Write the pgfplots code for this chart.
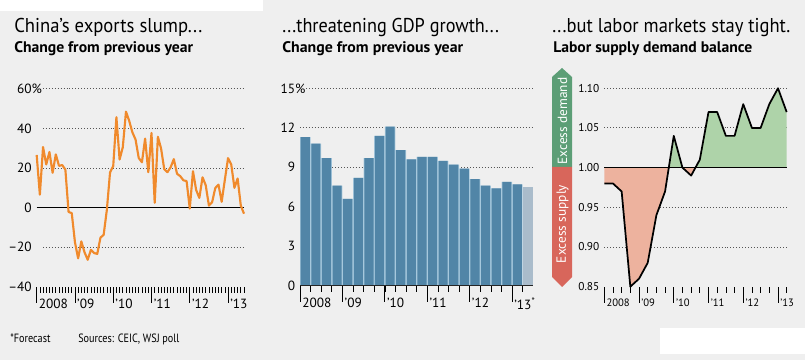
\documentclass[border=0pt]{standalone}
\usepackage{fontspec}
\setmainfont{PT Sans}
\newfontfamily\condfont[FakeStretch=0.85]{PT Sans}
\usepackage{graphicx}
\usepackage{pgfplots}
\pgfplotsset{compat=1.18}
\definecolor{bg}{HTML}{EFEFEF}
\definecolor{orangeline}{HTML}{F08A2C}
\definecolor{barblue}{HTML}{5185A7}
\definecolor{gapblue}{HTML}{A6C8DD}
\definecolor{forecast}{HTML}{AABCCB}
\definecolor{pinkfill}{HTML}{EDB29E}
\definecolor{greenfill}{HTML}{AED3A9}
\definecolor{arrowgreen}{HTML}{5C9E76}
\definecolor{arrowred}{HTML}{D8665B}
\definecolor{gridc}{HTML}{555555}

\newcommand{\ttl}[2]{\resizebox{#1}{\height}{\fontsize{15pt}{17pt}\selectfont #2}}
\newcommand{\sub}[2]{\resizebox{#1}{\height}{\bfseries\fontsize{11.5pt}{13pt}\selectfont #2}}

\tikzset{gridline/.style={gridc, line width=0.7pt, dash pattern=on 0.7pt off 1.5pt}}
\pgfplotsset{
  wsj/.style={
    scale only axis,
    anchor=south west,
    clip=false,
    axis line style={draw=none},
    tick align=outside,
    xtick pos=left,
    ytick style={draw=none},
    xtick style={black, line width=0.6pt},
    minor x tick style={black, line width=0.5pt},
    major tick length=12pt,
    minor tick length=4.5pt,
    /pgf/number format/assume math mode=true,
    xticklabel style={anchor=north west, inner sep=0pt, xshift=1.5pt, yshift=3pt},
    yticklabel style={anchor=east, inner sep=0pt, xshift=8.5pt},
  },
}

\begin{document}
\begin{tikzpicture}[x=0.75pt,y=0.75pt]
\fill[bg] (0,0) rectangle (805,360);
\fill[white] (0,349) rectangle (263,360);
\fill[white] (660,6) rectangle (805,32);

% titles
\node[anchor=base west, inner sep=0] at (14,327) {\ttl{141pt}{China’s exports slump...}};
\node[anchor=base west, inner sep=0] at (14,307) {\sub{134.2pt}{Change from previous year}};
\node[anchor=base west, inner sep=0] at (282,327) {\ttl{162.5pt}{...threatening GDP growth...}};
\node[anchor=base west, inner sep=0] at (282,307) {\sub{135.7pt}{Change from previous year}};
\node[anchor=base west, inner sep=0] at (552,327) {\ttl{178.5pt}{...but labor markets stay tight.}};
\node[anchor=base west, inner sep=0] at (553,307) {\sub{149.2pt}{Labor supply demand balance}};

% footnote
\node[anchor=base west, inner sep=0] at (10,18) {\condfont\fontsize{9pt}{11pt}\selectfont *Forecast};
\node[anchor=base west, inner sep=0] at (78,18) {\condfont\fontsize{9pt}{11pt}\selectfont Sources: CEIC, WSJ poll};

% ---------------- Left: exports ----------------
\begin{axis}[wsj, at={(27.5pt,55pt)}, width=155.5pt, height=148.3pt,
  xmin=0, xmax=65, ymin=-40, ymax=60,
  xtick={0,12,24,36,48,60}, minor xtick={0,1,...,65},
  xticklabels={2008,’09,’10,’11,’12,’13},
  ytick={-40,-20,0,20,40,60},
  yticklabels={–40,–20,0,20,40,60\rlap{\%}},
  font=\fontsize{10pt}{12pt}\selectfont]
\foreach \g in {-20,20,40,60} {\edef\temp{\noexpand\draw[gridline] (axis cs:2,\g) -- (axis cs:65,\g);}\temp}
\draw[black, line width=0.8pt] (axis cs:0,0) -- (axis cs:65,0);
\addplot[orangeline, line width=1.6pt, line join=round, mark=none] table[x=i, y=v] {
i v
0 26.6
1 6.5
2 30.6
3 21.8
4 28.1
5 17.6
6 26.9
7 21.1
8 21.5
9 19.2
10 -2.2
11 -2.8
12 -17.5
13 -25.7
14 -17.1
15 -22.6
16 -26.4
17 -21.4
18 -23.0
19 -23.4
20 -15.2
21 -13.8
22 -1.2
23 17.7
24 21.0
25 45.7
26 24.3
27 30.5
28 48.5
29 43.9
30 38.1
31 34.4
32 25.1
33 22.9
34 34.9
35 17.9
36 37.7
37 2.4
38 35.8
39 29.9
40 19.4
41 17.9
42 20.4
43 24.5
44 17.1
45 15.9
46 13.8
47 13.4
48 -0.5
49 18.4
50 8.9
51 4.9
52 15.3
53 11.3
54 1.0
55 2.7
56 9.9
57 11.6
58 2.9
59 14.1
60 25.0
61 21.8
62 10.0
63 14.7
64 1.0
65 -3.1
};
\end{axis}

% ---------------- Middle: GDP ----------------
\begin{axis}[wsj, at={(225pt,55.7pt)}, width=175pt, height=148pt,
  xmin=-0.5, xmax=21.5, ymin=0, ymax=15,
  xtick={-0.5,3.5,7.5,11.5,15.5,19.5}, minor xtick={0.5,1.5,...,20.5},
  xticklabels={2008,’09,’10,’11,’12,’13\textsuperscript{*}},
  ytick={0,3,6,9,12,15},
  yticklabels={0,3,6,9,12,15\rlap{\%}},
  font=\fontsize{10pt}{12pt}\selectfont]
\draw[gridline] (axis cs:0.1,15) -- (axis cs:21.5,15);
\foreach \g in {3,6,9,12} {\edef\temp{\noexpand\draw[gridline] (axis cs:-0.5,\g) -- (axis cs:21.5,\g);}\temp}
\addplot[ybar, bar shift=0pt, bar width=1, fill=gapblue, draw=none] table[x=i, y=v] {
i v
0 11.3
1 10.8
2 9.7
3 7.6
4 6.6
5 8.2
6 9.7
7 11.4
8 12.1
9 10.3
10 9.6
11 9.8
12 9.8
13 9.5
14 9.2
15 8.9
16 8.1
17 7.6
18 7.4
19 7.9
20 7.7
};
\addplot[ybar, bar shift=0pt, bar width=0.86, fill=barblue, draw=none] table[x=i, y=v] {
i v
0 11.3
1 10.8
2 9.7
3 7.6
4 6.6
5 8.2
6 9.7
7 11.4
8 12.1
9 10.3
10 9.6
11 9.8
12 9.8
13 9.5
14 9.2
15 8.9
16 8.1
17 7.6
18 7.4
19 7.9
20 7.7
};
\addplot[ybar, bar shift=0pt, bar width=0.9, fill=forecast, draw=none] coordinates {(21,7.5)};
\draw[black!85, line width=0.8pt] (axis cs:-0.5,0) -- (axis cs:21.5,0);
\end{axis}

% ---------------- Right: labor ----------------
\begin{axis}[wsj, at={(453.2pt,55pt)}, width=136.8pt, height=148.8pt,
  xmin=0, xmax=21, ymin=0.85, ymax=1.10,
  xtick={0,4,8,12,16,20}, minor xtick={1,2,...,21},
  xticklabels={2008,’09,’10,’11,’12,’13},
  ytick={0.85,0.90,0.95,1.00,1.05,1.10},
  yticklabels={0.85,0.90,0.95,1.00,1.05,1.10},
  yticklabel style={font=\fontsize{8.5pt}{10pt}\selectfont},
  xticklabel style={font=\fontsize{8pt}{10pt}\selectfont},
  ]
\foreach \g in {0.90,0.95,1.05,1.10} {\edef\temp{\noexpand\draw[gridline] (axis cs:0,\g) -- (axis cs:21,\g);}\temp}
% excess supply areas (curve below 1.00, closed along 1.00)
\addplot[fill=pinkfill, draw=none] coordinates {
(0,1) (0,0.98) (1,0.98) (2,0.97) (3,0.85) (4,0.86) (5,0.88) (6,0.94) (7,0.97) (7.43,1) } -- cycle;
\addplot[fill=pinkfill, draw=none] coordinates {
(9,1) (10,0.99) (10.5,1) } -- cycle;
% excess demand areas (curve above 1.00)
\addplot[fill=greenfill, draw=none] coordinates {
(7.43,1) (8,1.04) (9,1.00) } -- cycle;
\addplot[fill=greenfill, draw=none] coordinates {
(10.5,1) (11,1.01) (12,1.07) (13,1.07) (14,1.04) (15,1.04) (16,1.08) (17,1.05) (18,1.05) (19,1.08) (20,1.10) (21,1.07) (21,1) } -- cycle;
\draw[black, line width=0.8pt] (axis cs:0,1) -- (axis cs:21,1);
\addplot[black, line width=1.3pt, line join=round, mark=none] table[x=i, y=v] {
i v
0 0.98
1 0.98
2 0.97
3 0.85
4 0.86
5 0.88
6 0.94
7 0.97
8 1.04
9 1.00
10 0.99
11 1.01
12 1.07
13 1.07
14 1.04
15 1.04
16 1.08
17 1.05
18 1.05
19 1.08
20 1.10
21 1.07
};
\end{axis}

% arrows
\fill[arrowgreen] (552,193) -- (552,283) -- (562,292) -- (572,283) -- (572,193) -- cycle;
\fill[arrowred] (552,193) -- (552,83) -- (562,73) -- (572,83) -- (572,193) -- cycle;
\node[rotate=90, text=white, inner sep=0] at (562.5,239) {\fontsize{10pt}{12pt}\selectfont Excess demand};
\node[rotate=90, text=white, inner sep=0] at (562.5,136) {\fontsize{10pt}{12pt}\selectfont Excess supply};
\end{tikzpicture}
\end{document}
